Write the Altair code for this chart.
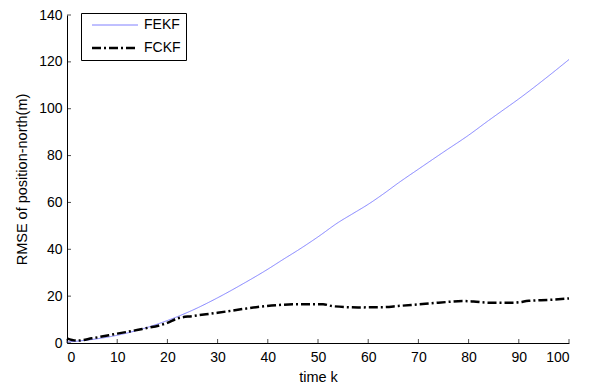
import altair as alt
import pandas as pd

# FEKF (thin blue) readings
fekf_k = [0, 5, 10, 15, 20, 25, 30, 35, 40, 43, 46, 50, 54, 57, 60, 63, 66, 70, 75, 80, 84, 87, 90, 95, 100]
fekf_v = [0.4, 1.5, 3.3, 6.0, 9.6, 14.0, 19.3, 25.2, 31.5, 35.6, 39.6, 45.3, 51.4, 55.3, 59.2, 63.6, 68.3, 74.2, 81.5, 88.7, 95.0, 99.6, 104.2, 112.4, 121.0]

# FCKF (black dash-dot) readings
fckf_k = [0, 2, 5, 10, 15, 20, 22, 25, 30, 35, 38, 42, 45, 51, 53, 58, 63, 66, 70, 74, 79, 81, 84, 89, 92, 96, 100]
fckf_v = [2.0, 1.0, 2.0, 4.0, 6.0, 8.6, 10.5, 11.5, 12.9, 14.5, 15.4, 16.2, 16.5, 16.5, 15.7, 15.2, 15.3, 15.8, 16.5, 17.2, 17.9, 17.7, 17.2, 17.2, 18.0, 18.4, 19.0]

series_names = ["FEKF", "FCKF"]
x_ticks = [0, 10, 20, 30, 40, 50, 60, 70, 80, 90, 100]
y_ticks = [0, 20, 40, 60, 80, 100, 120, 140]

df = pd.concat([
    pd.DataFrame({"k": fekf_k, "v": fekf_v, "s": "FEKF"}),
    pd.DataFrame({"k": fckf_k, "v": fckf_v, "s": "FCKF"}),
])

W, H = 502, 328
FONT = "Liberation Sans"

xs = alt.Scale(domain=[0, 100], nice=False, zero=False)
ys = alt.Scale(domain=[0, 140], nice=False)

lines = alt.Chart(df).mark_line(interpolate="monotone").encode(
    x=alt.X("k:Q", scale=xs, title="time k",
            axis=alt.Axis(values=x_ticks, tickSize=0, labelPadding=7, titlePadding=6,
                          grid=False, domainColor="black", labelColor="black", titleColor="black")),
    y=alt.Y("v:Q", scale=ys, title="RMSE of position-north(m)",
            axis=alt.Axis(values=y_ticks, tickSize=0, labelPadding=5, titlePadding=9,
                          grid=False, domainColor="black", labelColor="black", titleColor="black")),
    color=alt.Color("s:N", scale=alt.Scale(domain=series_names, range=["#8080ff", "black"]), title=None),
    strokeDash=alt.StrokeDash("s:N", scale=alt.Scale(domain=series_names, range=[[1, 0], [9, 3, 2, 3]]), title=None),
    strokeWidth=alt.StrokeWidth("s:N", scale=alt.Scale(domain=series_names, range=[1, 2.5]), title=None),
)

xt = alt.Chart(pd.DataFrame({"t": x_ticks})).mark_tick(orient="vertical", size=4, thickness=1, color="black").encode(
    x=alt.X("t:Q", scale=xs), y=alt.value(H - 2)
)
yt = alt.Chart(pd.DataFrame({"t": y_ticks})).mark_tick(orient="horizontal", size=4, thickness=1, color="black").encode(
    y=alt.Y("t:Q", scale=ys), x=alt.value(2)
)

chart = alt.layer(lines, xt, yt).properties(
    width=W, height=H,
    autosize=alt.AutoSizeParams(type="none"),
    padding={"left": 59, "top": 7, "right": 12, "bottom": 40},
).configure_view(stroke=None).configure_axis(
    labelFont=FONT, titleFont=FONT, labelFontSize=14, titleFontSize=14.5,
    titleFontWeight="normal", domainWidth=1,
).configure_legend(
    orient="none", legendX=14, legendY=-2,
    strokeColor="black", fillColor="white", padding=5,
    symbolType="M-4.6,0H4.6", symbolSize=100, symbolOffset=22,
    labelFont=FONT, labelFontSize=14, labelColor="black", labelOffset=22, rowPadding=9,
)

chart.save("out.html", embed_options={"renderer": "svg", "actions": False})
